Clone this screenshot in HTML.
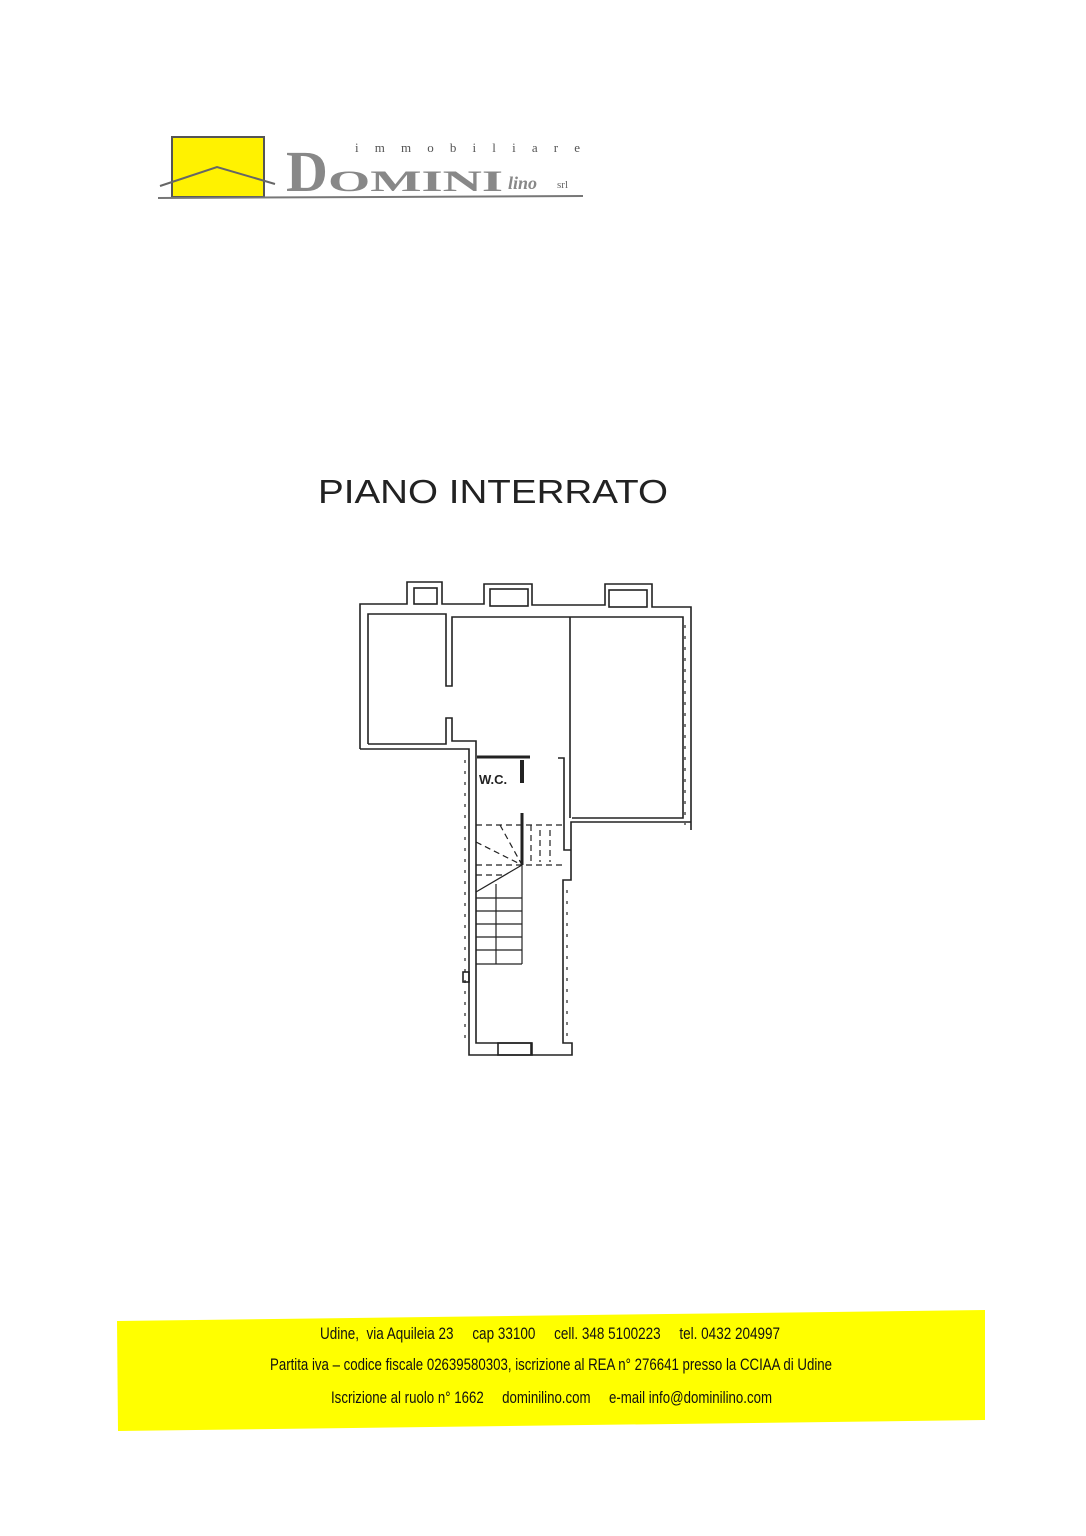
<!DOCTYPE html>
<html><head><style>
html,body{margin:0;padding:0;background:#fff;}
body{width:1086px;height:1536px;position:relative;overflow:hidden;font-family:"Liberation Sans",sans-serif;}
svg text{white-space:pre;}
</style></head><body>
<svg width="1086" height="1536" viewBox="0 0 1086 1536" xmlns="http://www.w3.org/2000/svg" style="position:absolute;left:0;top:0">
<!-- logo -->
<rect x="172" y="137" width="92" height="60" fill="#fff200" stroke="#555" stroke-width="2"/>
<polyline points="160,186 217,167 275,184" fill="none" stroke="#666" stroke-width="2"/>
<line x1="158" y1="198" x2="583" y2="196" stroke="#777" stroke-width="2"/>
<text x="286" y="191" font-family="Liberation Serif" font-weight="bold" font-size="58" fill="#888">D</text>
<text x="328" y="191" font-family="Liberation Serif" font-weight="bold" font-size="30" fill="#888" textLength="175" lengthAdjust="spacingAndGlyphs">OMINI</text>
<text x="508" y="189" font-family="Liberation Serif" font-style="italic" font-weight="bold" font-size="18" fill="#888">lino</text>
<text x="557" y="188" font-family="Liberation Serif" font-size="11" fill="#666">srl</text>
<text x="355" y="152" font-family="Liberation Serif" font-size="13" fill="#555" textLength="225" lengthAdjust="spacing">immobiliare</text>
<!-- title -->
<text x="318" y="503" font-size="33" fill="#222" textLength="350" lengthAdjust="spacingAndGlyphs">PIANO INTERRATO</text>
<!-- floor plan -->
<g fill="none" stroke="#222" stroke-width="1.6">
<polyline points="360,749 360,604 407,604 407,582 442,582 442,604 484,604 484,584 532,584 532,605 605,605 605,584 652,584 652,607 691,607 691,830"/>
<polyline points="368,744 368,614 446,614 446,686 452,686 452,617 683,617 683,818 572,818"/>
<rect x="414" y="588" width="23" height="16"/>
<rect x="490" y="589" width="38" height="17"/>
<rect x="609" y="590" width="38" height="17"/>
<polyline points="368,744 446,744 446,718 452,718 452,741 476,741 476,754"/>
<polyline points="360,749 469,749 469,1055 572,1055 572,1043 563,1043 563,880 571,880 571,822 691,822"/>
<polyline points="476,754 476,1043 531,1043 531,1055"/>
<line x1="570" y1="617" x2="570" y2="818"/>
<polyline points="558,758 564,758 564,850 571,850"/>
<rect x="498" y="1043" width="34" height="12"/>
<rect x="463" y="972" width="6" height="10"/>
<line x1="477" y1="757" x2="530" y2="757" stroke-width="3"/>
<line x1="522" y1="760" x2="522" y2="783" stroke-width="4"/>
<line x1="522" y1="813" x2="522" y2="865" stroke-width="3"/>
<g stroke-width="1.2">
<line x1="476" y1="964" x2="522" y2="964"/>
<line x1="476" y1="950" x2="522" y2="950"/>
<line x1="476" y1="937" x2="522" y2="937"/>
<line x1="476" y1="924" x2="522" y2="924"/>
<line x1="476" y1="911" x2="522" y2="911"/>
<line x1="476" y1="898" x2="522" y2="898"/>
<line x1="522" y1="865" x2="522" y2="964"/>
<line x1="496" y1="884" x2="496" y2="964"/>
<line x1="476" y1="892" x2="522" y2="865"/>
</g>
<g stroke-dasharray="6,4" stroke-width="1.2">
<line x1="476" y1="825" x2="563" y2="825"/>
<line x1="476" y1="865" x2="563" y2="865"/>
<line x1="476" y1="875" x2="505" y2="875"/>
<line x1="476" y1="842" x2="522" y2="865"/>
<line x1="500" y1="825" x2="522" y2="865"/>
<line x1="531" y1="825" x2="531" y2="865"/>
<line x1="540" y1="830" x2="540" y2="862"/>
<line x1="550" y1="830" x2="550" y2="862"/>
<line x1="685" y1="625" x2="685" y2="825" stroke-dasharray="3,8"/>
<line x1="465" y1="760" x2="465" y2="1045" stroke-dasharray="3,8"/>
<line x1="567" y1="890" x2="567" y2="1040" stroke-dasharray="3,8"/>
</g>
</g>
<text x="479" y="784" font-size="13" font-weight="bold" fill="#222">W.C.</text>
<!-- footer -->
<polygon points="117,1321 985,1310 985,1420 118,1431" fill="#ffff00"/>
<g font-size="17" fill="#111" font-family="'Liberation Sans Narrow','Liberation Sans',sans-serif">
<text x="320" y="1339" textLength="460" lengthAdjust="spacingAndGlyphs">Udine,  via Aquileia 23     cap 33100     cell. 348 5100223     tel. 0432 204997</text>
<text x="270" y="1370" textLength="562" lengthAdjust="spacingAndGlyphs">Partita iva – codice fiscale 02639580303, iscrizione al REA n° 276641 presso la CCIAA di Udine</text>
<text x="331" y="1403" textLength="441" lengthAdjust="spacingAndGlyphs">Iscrizione al ruolo n° 1662     dominilino.com     e-mail info@dominilino.com</text>
</g>
</svg>
</body></html>
